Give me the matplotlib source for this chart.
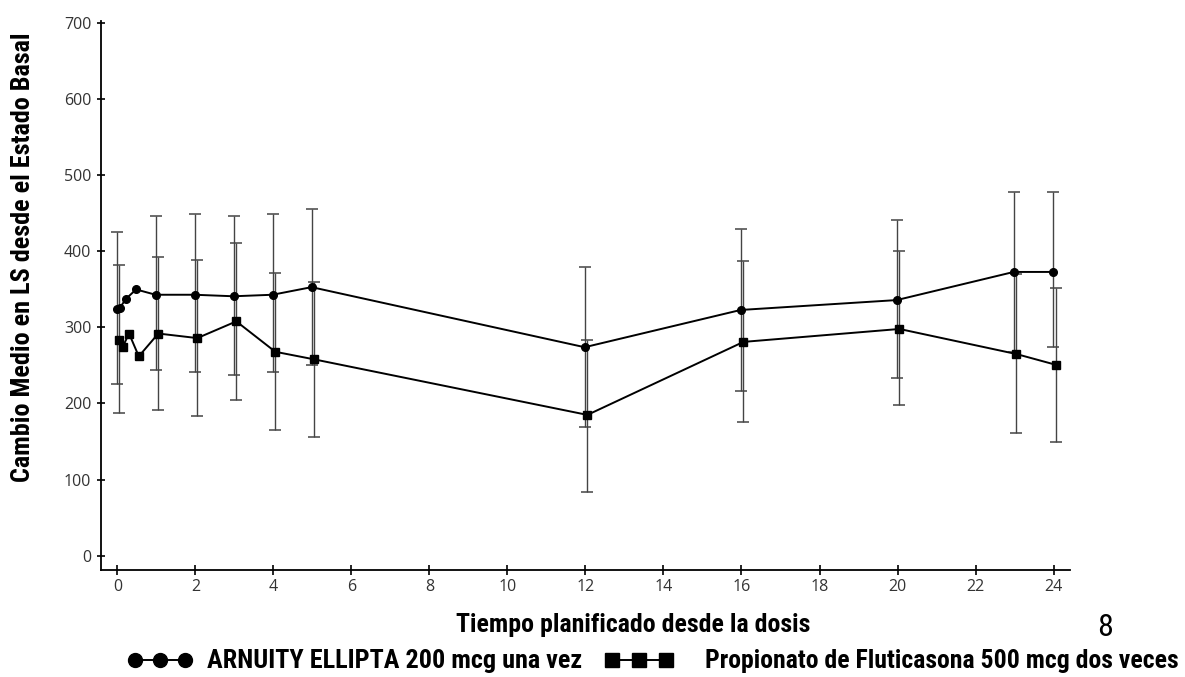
import numpy as np
import matplotlib
matplotlib.use("Agg")
import matplotlib.pyplot as plt
import matplotlib.font_manager as fm
from matplotlib.lines import Line2D

nan = np.nan

# tiempo planificado (horas)
horas = [0, 0.083, 0.25, 0.5, 1, 2, 3, 4, 5, 12, 16, 20, 23, 24]

# ARNUITY ELLIPTA 200 mcg una vez
arnuity = [324, 326, 338, 350, 343, 343, 341, 343, 353, 274, 323, 336, 373, 373]
arnuity_lo = [225, nan, nan, nan, 244, 241, 237, 241, 250, 169, 216, 234, 268, 274]
arnuity_hi = [425, nan, nan, nan, 447, 449, 446, 449, 456, 379, 430, 441, 478, 478]

# Propionato de Fluticasona 500 mcg dos veces
flutic = [283, 274, 292, 262, 292, 286, 308, 268, 258, 185, 281, 298, 265, 251]
flutic_lo = [187, nan, nan, nan, 192, 184, 204, 165, 156, 84, 176, 198, 161, 149]
flutic_hi = [382, nan, nan, nan, 392, 389, 411, 372, 360, 284, 387, 401, 370, 352]

xticks = list(range(0, 25, 2))
yticks = list(range(0, 701, 100))

NARROW = ('condensed', 'semi-condensed', 'extra-condensed', 'ultra-condensed')


def pick_font(bold):
    # busca una fuente estrecha (tipo Arial Narrow); si no hay, Liberation Sans
    def is_bold(f):
        return f.weight in (700, 'bold')

    def is_reg(f):
        return f.weight in (400, 'normal', 'regular', 'book')

    cands = [f for f in fm.fontManager.ttflist
             if f.style == 'normal' and (is_bold(f) if bold else is_reg(f))
             and (f.stretch in NARROW or 'Narrow' in f.name or 'Condensed' in f.name)]
    for pref in ['Liberation Sans Narrow', 'Arial Narrow', 'Roboto Condensed',
                 'Open Sans Condensed', 'DejaVu Sans']:
        for f in cands:
            if f.name.startswith(pref):
                return fm.FontProperties(fname=f.fname)
    if cands:
        return fm.FontProperties(fname=cands[0].fname)
    return fm.FontProperties(family='Liberation Sans',
                             weight='bold' if bold else 'normal')


fp_bold = pick_font(True)
fp_reg = pick_font(False)
tick_font = ['Open Sans', 'DejaVu Sans']

fig = plt.figure(figsize=(11.85, 6.77), dpi=100, facecolor='white')
ax = fig.add_axes([0.0852, 0.158, 0.8177, 0.811])


def serie(x, y, lo, hi, marker, ms, dx):
    x = np.array(x) + dx
    y = np.array(y, dtype=float)
    err = np.vstack([y - np.array(lo), np.array(hi) - y])
    ok = ~np.isnan(err[0])
    ax.errorbar(x[ok], y[ok], yerr=err[:, ok], fmt='none', ecolor='#444444',
                elinewidth=1.0, capsize=4, capthick=1.1, zorder=2)
    ax.plot(x, y, color='black', lw=1.4, marker=marker, ms=ms,
            mfc='black', mec='black', zorder=3)


serie(horas, arnuity, arnuity_lo, arnuity_hi, 'o', 5.5, -0.02)
serie(horas, flutic, flutic_lo, flutic_hi, 's', 6.2, 0.05)

ax.set_xlim(-0.42, 24.42)
ax.set_ylim(-19, 703)
ax.set_xticks(xticks)
ax.set_yticks(yticks)
for s in ['top', 'right']:
    ax.spines[s].set_visible(False)
for s in ['left', 'bottom']:
    ax.spines[s].set_linewidth(1.3)
ax.tick_params(axis='x', direction='inout', length=7, width=1.2, pad=3,
               labelsize=11.5, labelcolor='#333333')
ax.tick_params(axis='y', direction='inout', length=6, width=1.2, pad=4,
               labelsize=11.5, labelcolor='#333333')
for t in ax.get_xticklabels() + ax.get_yticklabels():
    t.set_family(tick_font)

ylab = fig.text(0.0195, 1 - 257 / 677, 'Cambio Medio en LS desde el Estado Basal',
                rotation=90, ha='center', va='center', fontproperties=fp_bold, fontsize=16)
xlab = fig.text(633 / 1185, 1 - 625 / 677, 'Tiempo planificado desde la dosis',
                ha='center', va='center', fontproperties=fp_bold, fontsize=16)
fig.text(1105 / 1185, 1 - 627 / 677, '8', ha='center', va='center',
         fontproperties=fp_reg, fontsize=23)

# leyenda
ly = 1 - 660 / 677
xs1 = np.array([135, 160, 185]) / 1185
xs2 = np.array([612, 639, 666]) / 1185
fig.add_artist(Line2D(xs1, [ly] * 3, color='black', lw=1.4, marker='o', ms=10,
                      transform=fig.transFigure))
fig.add_artist(Line2D(xs2, [ly] * 3, color='black', lw=1.4, marker='s', ms=10,
                      transform=fig.transFigure))
leg1 = fig.text(207 / 1185, 1 - 661 / 677, 'ARNUITY ELLIPTA 200 mcg una vez', ha='left',
                va='center', fontproperties=fp_bold, fontsize=16)
leg2 = fig.text(705 / 1185, 1 - 661 / 677, 'Propionato de Fluticasona 500 mcg dos veces',
                ha='left', va='center', fontproperties=fp_bold, fontsize=16)


def fit(txt, target, vertical=False):
    # ajusta el tamaño para que el texto ocupe el ancho del original
    for _ in range(2):
        r = fig.canvas.get_renderer()
        bb = txt.get_window_extent(r)
        w = bb.height if vertical else bb.width
        txt.set_fontsize(txt.get_fontsize() * target / w)


fit(ylab, 450, vertical=True)
fit(xlab, 353)
fit(leg1, 376)
fit(leg2, 475)

fig.savefig('out.png', dpi=100, facecolor='white')
